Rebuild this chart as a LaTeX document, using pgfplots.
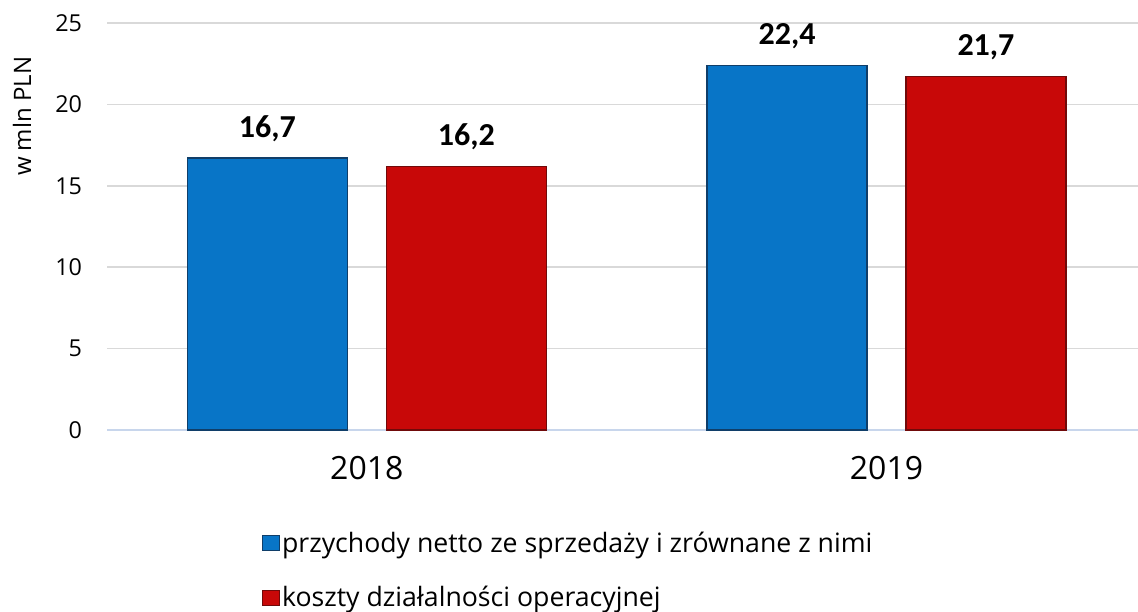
\documentclass[border=0pt]{standalone}
\usepackage{pgfplots}
\pgfplotsset{compat=1.18}
\usepackage{fontspec}
\setmainfont{Open Sans}
\newfontfamily\valfont{Carlito}

\definecolor{barblue}{RGB}{8,117,199}
\definecolor{barbluedark}{RGB}{16,62,105}
\definecolor{barred}{RGB}{200,8,8}
\definecolor{barreddark}{RGB}{112,10,10}
\definecolor{gridgray}{RGB}{217,217,217}
\definecolor{baseblue}{RGB}{200,214,236}

\begin{document}
\begin{tikzpicture}[x=1pt,y=1pt]
    \begin{axis}[
        at={(80.25pt,135.75pt)}, anchor=south west,
        scale only axis,
        width=773.25pt, height=305.25pt,
        ybar, bar width=120pt,
        xmin=-0.5, xmax=1.484,
        ymin=0, ymax=25,
        xtick=data, xticklabels={2018, 2019},
        ytick={0,5,...,25},
        axis x line*=bottom, axis y line*=left,
        x axis line style={baseblue, line width=1.1pt, -},
        y axis line style={draw=none},
        ymajorgrids, grid style={gridgray, line width=1.1pt},
        major tick length=0pt,
        /pgf/number format/assume math mode=true,
        yticklabel style={font=\fontsize{17.5}{21}\selectfont, inner sep=0pt, anchor=east, xshift=-18.5pt},
        xticklabel style={font=\fontsize{24}{28}\selectfont, inner sep=0pt, anchor=north, yshift=-19.5pt},
        nodes near coords,
        nodes near coords style={font=\valfont\bfseries\fontsize{24}{28}\selectfont, text=black, inner sep=0pt, anchor=south, yshift=12pt,
            /pgf/number format/.cd, fixed, fixed zerofill, precision=1, use comma},
        legend style={at={(0.15,-0.245)}, anchor=north west, draw=none, fill=none,
            font=\fontsize{20}{24}\selectfont, row sep=21pt, inner sep=0pt,
            nodes={inner sep=1.5pt}},
        legend cell align=left,
        legend image code/.code={
            \draw[#1, line width=0.6pt] (0pt,-5.5pt) rectangle (13pt,5.5pt);},
    ]
        \addplot[fill=barblue, draw=barbluedark, line width=1pt, bar shift=-74.6pt] coordinates {
            (0, 16.7)
            (1, 22.4)
        };
        \addplot[fill=barred, draw=barreddark, line width=1pt, bar shift=74.6pt] coordinates {
            (0, 16.2)
            (1, 21.7)
        };
        \legend{przychody netto ze sprzedaży i zrównane z nimi, koszty działalności operacyjnej}
    \end{axis}
    \node[rotate=90, font=\fontsize{18}{21}\selectfont] at (16.5pt, 371pt) {w mln PLN};
    \pgfresetboundingbox
    \useasboundingbox (0,0) rectangle (853.5pt,458.25pt);
\end{tikzpicture}
\end{document}
